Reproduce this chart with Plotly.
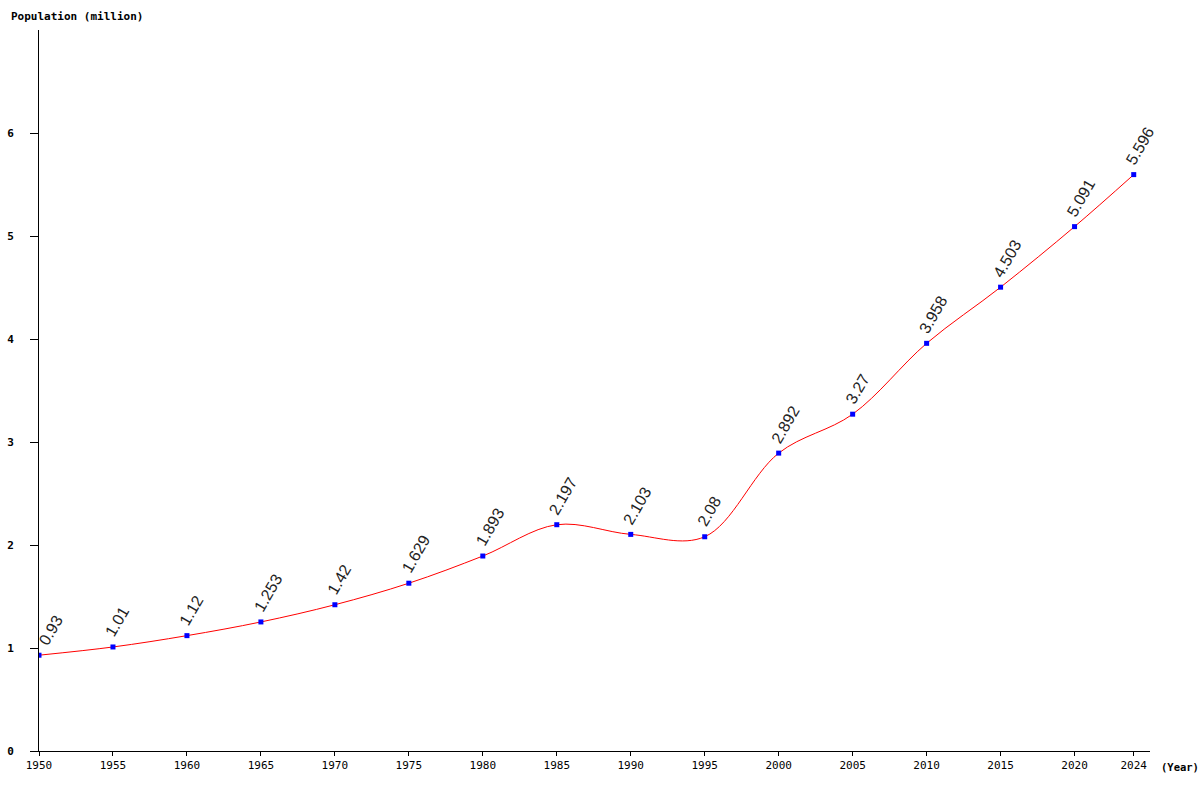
"""Population line chart (million), 1950-2024."""
import plotly.graph_objects as go

years = [1950, 1955, 1960, 1965, 1970, 1975, 1980, 1985, 1990, 1995,
         2000, 2005, 2010, 2015, 2020, 2024]
population = [0.93, 1.01, 1.12, 1.253, 1.42, 1.629, 1.893, 2.197, 2.103, 2.08,
              2.892, 3.27, 3.958, 4.503, 5.091, 5.596]
value_labels = ["0.93", "1.01", "1.12", "1.253", "1.42", "1.629", "1.893", "2.197",
                "2.103", "2.08", "2.892", "3.27", "3.958", "4.503", "5.091", "5.596"]
y_ticks = [0, 1, 2, 3, 4, 5, 6]

fig = go.Figure()
fig.add_trace(go.Scatter(
    x=years, y=population, mode="lines+markers",
    line=dict(color="red", width=1, shape="spline", smoothing=1),
    marker=dict(color="blue", size=5, symbol="square"),
    hoverinfo="x+y", showlegend=False,
))

# rotated value labels; plotly rotates around the centre so shift them up-right
for yr, val, txt in zip(years, population, value_labels):
    w = sum(4.5 if c == "." else 8.9 for c in txt)
    nudge = 8 if txt.startswith("0") else 1  # first label kept clear of the axis
    fig.add_annotation(
        x=yr, y=val, text=txt, showarrow=False, textangle=-60,
        font=dict(family="Liberation Sans, Arial", size=16, color="#222"),
        xshift=nudge + 0.5 * w / 2 - 0.866 * 5,
        yshift=9 + 0.866 * w / 2 + 0.5 * 5,
    )

# plot area is 39..1150 px wide and 30..751 px high
fig.add_annotation(x=-0.027, y=1.0194, xref="paper", yref="paper", text="<b>Population (million)</b>",
                   showarrow=False, xanchor="left", yanchor="middle",
                   font=dict(family="DejaVu Sans Mono", size=11, color="black"))
fig.add_annotation(x=1.008, y=-0.0222, xref="paper", yref="paper", text="<b>(Year)</b>",
                   showarrow=False, xanchor="left", yanchor="middle",
                   font=dict(family="DejaVu Sans Mono", size=10.5, color="black"))

fig.update_xaxes(
    range=[1950, 2025.1], tickvals=years, ticktext=[str(y) for y in years],
    showgrid=False, zeroline=False, showline=True, linecolor="black", linewidth=1,
    ticks="outside", ticklen=4, tickcolor="black", automargin=False,
    tickfont=dict(family="DejaVu Sans Mono", size=11, color="black"),
)
fig.update_yaxes(
    range=[0, 7], tickvals=y_ticks, showgrid=False, zeroline=False,
    showline=True, linecolor="black", linewidth=1,
    ticks="outside", ticklen=8, tickcolor="black", ticklabelstandoff=14, automargin=False,
    tickfont=dict(family="DejaVu Sans Mono", size=11, color="black", weight="bold"),
)
fig.update_layout(
    width=1200, height=800,
    margin=dict(l=39, r=50, t=30, b=49),
    plot_bgcolor="white", paper_bgcolor="white",
)

# drop the default 8px body margin so the figure sits at the window corner
fig.write_html("out.html", config={"displayModeBar": False},
               post_script="document.body.style.margin = '0';")
